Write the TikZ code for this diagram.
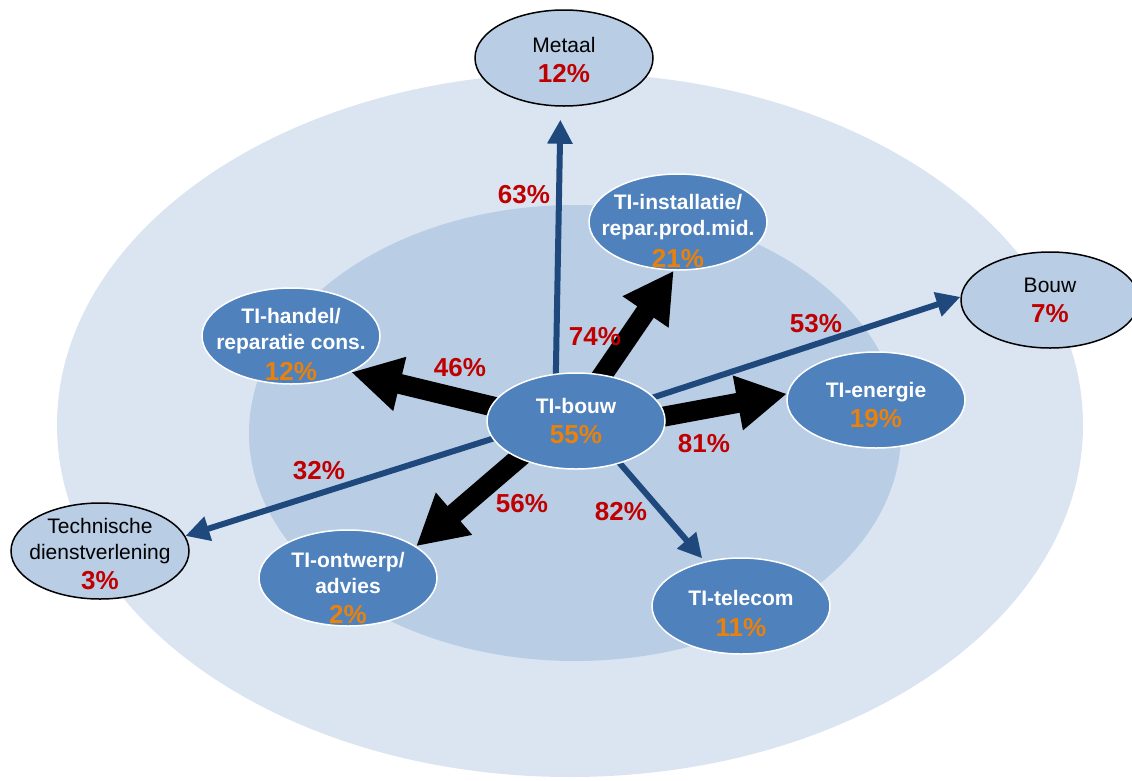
\documentclass[tikz,border=0pt]{standalone}
\usepackage{fontspec}
\setmainfont{Liberation Sans}
\usetikzlibrary{arrows.meta,calc,shapes.geometric}
\definecolor{ringout}{HTML}{DBE5F1}
\definecolor{ringin}{HTML}{B9CDE5}
\definecolor{tiblue}{HTML}{4F81BD}
\definecolor{flowblue}{HTML}{1F497D}
\definecolor{pctred}{HTML}{C00000}
\definecolor{pctorange}{HTML}{E8820C}
\pgfdeclarelayer{back}
\pgfdeclarelayer{links}
\pgfsetlayers{back,links,main}
\newcommand{\orpct}[1]{{\fontsize{26}{30}\selectfont\color{pctorange}#1}}
\newcommand{\redpct}[1]{{\fontsize{26}{30}\bfseries\selectfont\color{pctred}#1}}
\tikzset{
  tinode/.style={ellipse,draw=white,line width=1.5pt,fill=tiblue,
    minimum width=178pt,minimum height=96pt,inner sep=0pt},
  sector/.style={tinode,draw=black,fill=ringin},
  tiname/.style={align=center,text=white,font=\fontsize{21}{26}\bfseries\selectfont},
  secname/.style={align=center,font=\fontsize{21}{26}\selectfont},
  pct/.style={font=\fontsize{26}{30}\bfseries\selectfont,text=pctred},
  fatflow/.style={line width=20pt,-{Triangle[width=52pt,length=50pt]},shorten <=-15pt},
  flow/.style={line width=6pt,flowblue,-{Triangle[width=24pt,length=24pt]},shorten <=-15pt},
}
\begin{document}
\begin{tikzpicture}[x=1pt,y=-1pt]
\useasboundingbox (0,0) rectangle (1132,780);
\begin{pgfonlayer}{back}
\fill[ringout] (570,425) ellipse (513 and 352);
\fill[ringin] (575,433) ellipse (326 and 228);
\end{pgfonlayer}

% outer sectors
\node[sector] (metaal) at (564,58) {};
\node[secname] (metaal-t) at ($(metaal)+(0,2)$) {Metaal\\[4pt]\redpct{12\%}};
\node[sector] (bouw) at (1050,300) {};
\node[secname] (bouw-t) at (bouw) {Bouw\\[4pt]\redpct{7\%}};
\node[sector] (techn) at (100,551) {};
\node[secname] (techn-t) at ($(techn)+(0,3)$) {Technische\\dienstverlening\\[4pt]\redpct{3\%}};

% TI nodes
\node[tinode] (tbouw) at (576,421) {};
\node[tiname] (tbouw-t) at (tbouw) {TI-bouw\\[4pt]\orpct{55\%}};
\node[tinode] (tinst) at (678,222) {};
\node[tiname] (tinst-t) at ($(tinst)+(0,9)$) {TI-installatie/\\repar.prod.mid.\\[6pt]\orpct{21\%}};
\node[tinode] (thandel) at (291,336) {};
\node[tiname] (thandel-t) at ($(thandel)+(0,8)$) {TI-handel/\\reparatie cons.\\[5pt]\orpct{12\%}};
\node[tinode] (tenergie) at (876,400) {};
\node[tiname] (tenergie-t) at ($(tenergie)+(0,5)$) {TI-energie\\[4pt]\orpct{19\%}};
\node[tinode] (tontwerp) at (348,578) {};
\node[tiname] (tontwerp-t) at ($(tontwerp)+(0,10)$) {TI-ontwerp/\\advies\\[4pt]\orpct{2\%}};
\node[tinode] (ttelecom) at (741,606) {};
\node[tiname] (ttelecom-t) at ($(ttelecom)+(0,7)$) {TI-telecom\\[5pt]\orpct{11\%}};

% flows out of TI-bouw
\begin{pgfonlayer}{links}
\draw[flow,shorten >=13pt] (tbouw.113) -- (metaal.266);
\draw[fatflow] (tbouw.60) -- (tinst.265);
\draw[flow] (tbouw.17) -- (bouw.178);
\draw[fatflow] (tbouw.170) -- (thandel.329);
\draw[fatflow] (tbouw.3) -- (tenergie.176);
\draw[fatflow] (tbouw.213) -- (tontwerp.25);
\draw[flow] (tbouw.192) -- (techn.10);
\draw[flow,shorten >=4pt] (tbouw.316) -- (ttelecom.129);
\end{pgfonlayer}

\node[pct] (p63) at (524,195) {63\%};
\node[pct] (p74) at (595,337) {74\%};
\node[pct] (p53) at (816,324) {53\%};
\node[pct] (p46) at (460,368) {46\%};
\node[pct] (p81) at (704,444) {81\%};
\node[pct] (p32) at (319,471) {32\%};
\node[pct] (p56) at (522,504) {56\%};
\node[pct] (p82) at (621,512) {82\%};
\end{tikzpicture}
\end{document}
